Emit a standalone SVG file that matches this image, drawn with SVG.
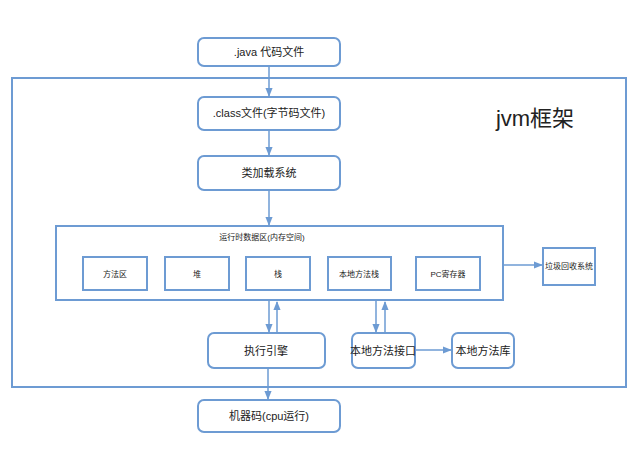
<svg xmlns="http://www.w3.org/2000/svg" width="640" height="449" viewBox="0 0 640 449">
<style>
.b{fill:#fff;stroke:#6d9bd3;stroke-width:2}
.c{stroke:#6d9bd3;stroke-width:1.5;fill:none}
text{font-family:"Liberation Sans","Noto Sans CJK SC",sans-serif;fill:#222;text-anchor:middle;dominant-baseline:central}
.s{font-size:8px}.m{font-size:11px}
</style>
<defs><marker id="a" viewBox="0 0 10 10" refX="9" refY="5" markerWidth="6" markerHeight="6" orient="auto"><path d="M0,1L10,5L0,9z" fill="#6d9bd3"/></marker></defs>
<rect width="640" height="449" fill="#fff"/>
<rect x="12" y="78" width="614" height="309" fill="none" stroke="#6d9bd3" stroke-width="2"/>
<text x="535" y="118" style="font-size:22px">jvm框架</text>
<g id="java"><rect class="b" x="198" y="38" width="142" height="28" rx="6"/><text class="m" x="269" y="52">.java 代码文件</text></g>
<g id="class"><rect class="b" x="198" y="97" width="142" height="33" rx="6"/><text class="m" x="269" y="113">.class文件(字节码文件)</text></g>
<g id="loader"><rect class="b" x="198" y="156" width="142" height="34" rx="6"/><text class="m" x="269" y="173">类加载系统</text></g>
<g id="runtime"><rect class="b" x="56" y="226" width="447" height="74"/><text class="s" x="262" y="237">运行时数据区(内存空间)</text>
<rect class="b" x="83" y="257" width="64" height="33"/><text class="s" x="115" y="274">方法区</text>
<rect class="b" x="165" y="257" width="64" height="33"/><text class="s" x="197" y="274">堆</text>
<rect class="b" x="246" y="257" width="64" height="33"/><text class="s" x="278" y="274">栈</text>
<rect class="b" x="328" y="257" width="63" height="33"/><text class="s" x="359" y="274">本地方法栈</text>
<rect class="b" x="416" y="257" width="64" height="33"/><text class="s" x="448" y="274">PC寄存器</text></g>
<g id="gc"><rect class="b" x="543" y="248" width="52" height="37"/><text class="s" x="569" y="266">垃圾回收系统</text></g>
<g id="engine"><rect class="b" x="208" y="333" width="117" height="35" rx="6"/><text class="m" x="266" y="351">执行引擎</text></g>
<g id="jni"><rect class="b" x="352" y="333" width="63" height="35" rx="6"/><text class="m" x="383" y="351">本地方法接口</text></g>
<g id="lib"><rect class="b" x="452" y="333" width="62" height="35" rx="6"/><text class="m" x="483" y="351">本地方法库</text></g>
<g id="mc"><rect class="b" x="198" y="400" width="142" height="32" rx="6"/><text class="m" x="269" y="416">机器码(cpu运行)</text></g>
<g id="connectors">
<line class="c" x1="269" y1="66" x2="269" y2="96" marker-end="url(#a)"/>
<line class="c" x1="269" y1="130" x2="269" y2="155" marker-end="url(#a)"/>
<line class="c" x1="269" y1="190" x2="269" y2="225" marker-end="url(#a)"/>
<line class="c" x1="503" y1="265" x2="542" y2="265" marker-end="url(#a)"/>
<line class="c" x1="269" y1="301" x2="269" y2="332" marker-end="url(#a)"/>
<line class="c" x1="277" y1="333" x2="277" y2="302" marker-end="url(#a)"/>
<line class="c" x1="376" y1="301" x2="376" y2="332" marker-end="url(#a)"/>
<line class="c" x1="385" y1="333" x2="385" y2="302" marker-end="url(#a)"/>
<line class="c" x1="415" y1="350" x2="451" y2="350" marker-end="url(#a)"/>
<line class="c" x1="268" y1="368" x2="268" y2="399" marker-end="url(#a)"/>
</g>
</svg>
